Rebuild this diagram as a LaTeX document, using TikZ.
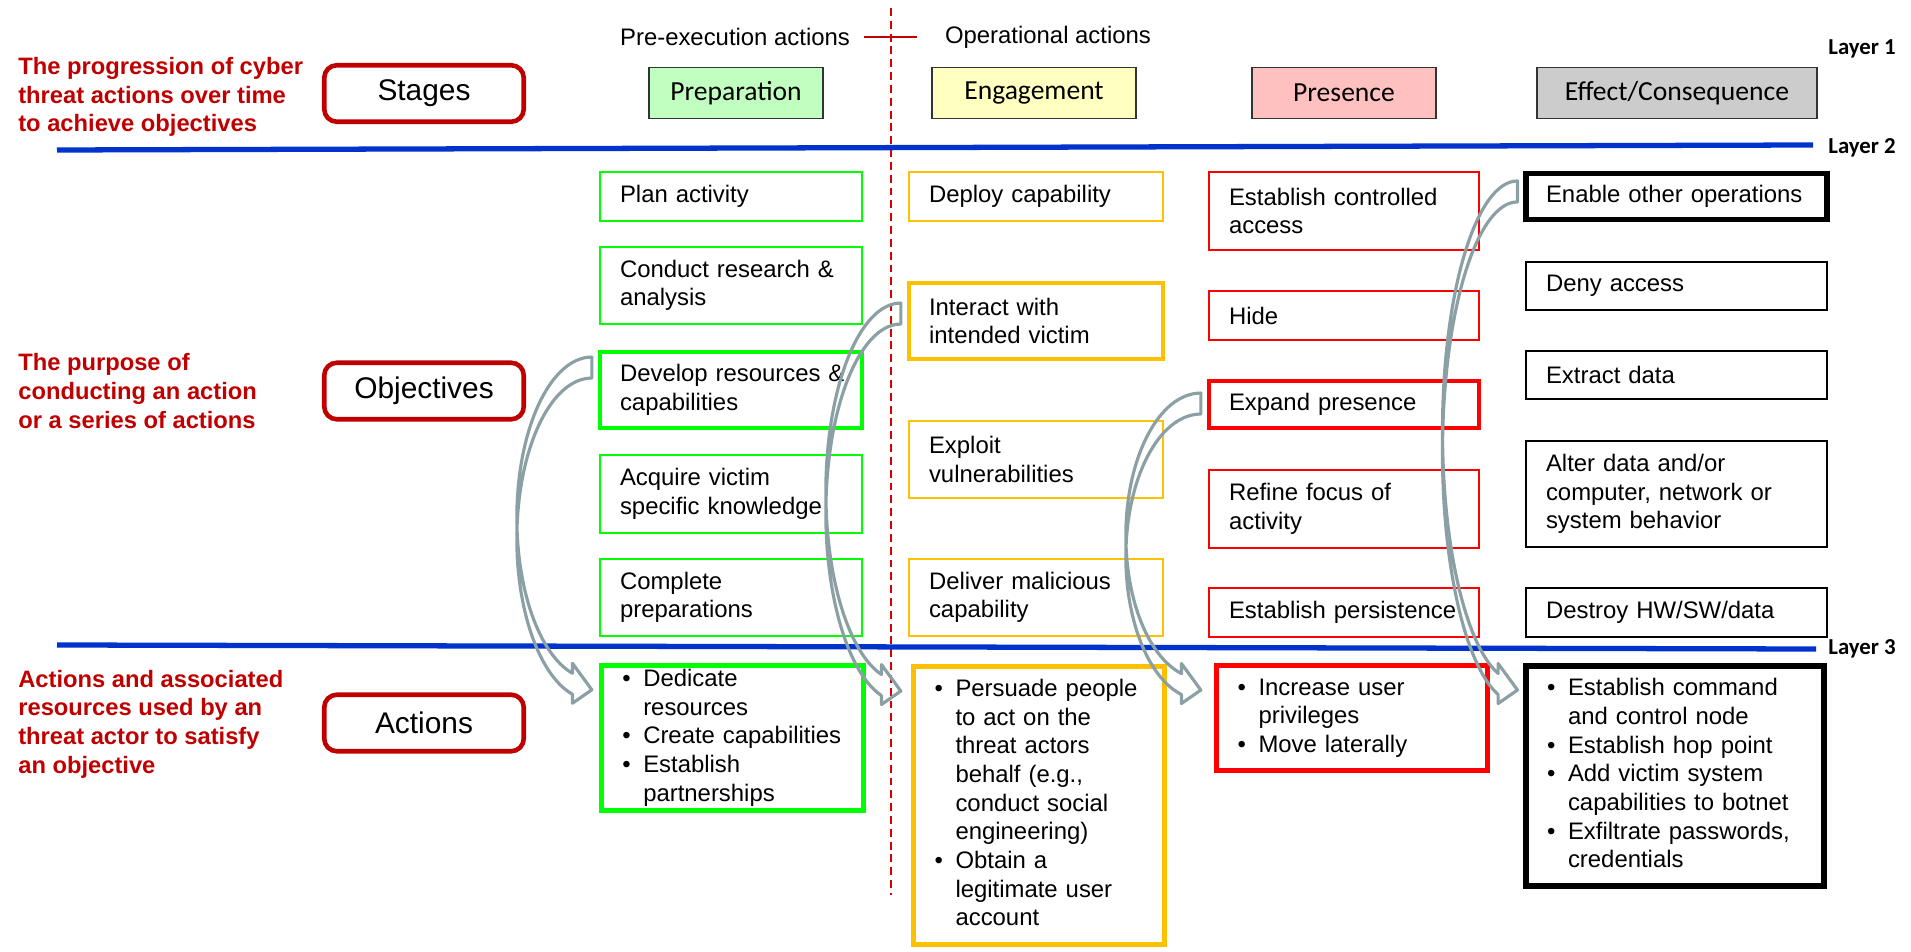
\documentclass[tikz,border=0pt]{standalone}
\usepackage{fontspec}
\setmainfont{Liberation Sans}
\newfontfamily\cali{Carlito}
\usepackage{tikz}
\usetikzlibrary{positioning,calc}
\usepackage{xcolor}
\hyphenpenalty=10000
\exhyphenpenalty=10000
\definecolor{stagered}{HTML}{C00000}
\definecolor{layerblue}{HTML}{0033CC}
\definecolor{prepgreen}{HTML}{00FF00}
\definecolor{engorange}{HTML}{FFC000}
\definecolor{presred}{HTML}{FF0000}
\definecolor{arrowgray}{HTML}{8AA0A4}
\definecolor{prepfill}{HTML}{C0FFC0}
\definecolor{engfill}{HTML}{FFFFC0}
\definecolor{presfill}{HTML}{FFC0C0}
\definecolor{efffill}{HTML}{CCCCCC}
\tikzset{
  box/.style={draw, line width=0.85pt, inner xsep=0.4cm, inner ysep=0pt,
    align=left, font=\fontsize{13.6}{16.3}\selectfont},
  hot/.style={line width=2.5pt},
}

% curved band arrow from an objective box down to its action box
\newcommand{\bendarrow}[3]{%
  \draw[bendarr] let \p1=($(#1.north west)+(-6,-#3)$),
                     \p2=($(#2.north west)+(0,-27)$),
                     \n1={(\y1-\y2-0.33cm)/1.966}
    in (\p1) arc[start angle=90, end angle=255, x radius=1.5cm, y radius={(\n1)*1pt}]
       coordinate (tipbase)
       -- ++(0,10) -- (\x1,\y2) -- ($(tipbase)+(0,-30)$) -- ($(tipbase)+(0,-21)$)
       arc[start angle=255, end angle=90, x radius=1.5cm, y radius={(\n1)*1pt}]
       -- cycle;
}

\begin{document}
\begin{tikzpicture}[
  x=0.02cm, y=0.02cm,
  gbox/.style={box, draw=prepgreen, text width=4.44cm, minimum height=#1},
  ybox/.style={box, draw=engorange, text width=4.28cm, minimum height=#1},
  rbox/.style={box, draw=presred, text width=4.6cm, minimum height=#1},
  kbox/.style={box, draw=black, text width=5.22cm, minimum height=#1},
  actbox/.style={box, inner xsep=0.42cm, line width=2.8pt, text width=#1},
  headbox/.style={draw=black!80, line width=1.1pt, minimum height=1.02cm,
    font=\cali\fontsize{15.7}{18}\selectfont},
  stagebox/.style={draw=stagered, line width=2.6pt, rounded corners=0.25cm,
    minimum width=3.99cm, minimum height=1.13cm, font=\fontsize{17}{20}\selectfont},
  sidelabel/.style={text=stagered, font=\bfseries\fontsize{13.5}{16.3}\selectfont,
    align=left, anchor=west, inner sep=0pt},
  toptext/.style={font=\fontsize{13.6}{16.3}\selectfont, inner sep=0pt},
  layerlabel/.style={font=\cali\bfseries\fontsize{13}{15}\selectfont, anchor=west, inner sep=0pt},
  layerline/.style={draw=layerblue, line width=3pt},
  bendarr/.style={draw=arrowgray, line width=1.8pt, line join=round}
]
\useasboundingbox (0,0) rectangle (1911,-952);

% left column
\node[sidelabel] (whystage) at (18,-97) {The progression of cyber\\threat actions over time\\to achieve objectives};
\node[sidelabel] (whyobj) at (18,-391) {The purpose of\\conducting an action\\or a series of actions};
\node[sidelabel] (whyact) at (18,-724) {Actions and associated\\resources used by an\\threat actor to satisfy\\an objective};

\node[stagebox] (stages) at (424,-93.5) {Stages};
\node[stagebox] (objectives) at (424,-391) {Objectives};
\node[stagebox] (actions) at (424,-723) {Actions};

% layer 1: stages
\node[toptext] (preexec) at (735,-37) {Pre-execution actions};
\node[toptext] (operat) at (1048,-37) {Operational actions};
\draw[stagered, line width=0.85pt] ($(preexec.east)+(14,0)$) -- ($(operat.west)+(-28,0)$);
\coordinate (splittop) at (891,-8);
\coordinate (splitbot) at (891,-895);
\draw[red!85!black, line width=0.85pt, dash pattern=on 4.5pt off 2.8pt] (splittop) -- (splitbot);

\node[headbox, fill=prepfill, minimum width=3.48cm] (prep) at (736,-93) {Preparation};
\node[headbox, fill=engfill, minimum width=4.08cm] (eng) at (1034,-93) {Engagement};
\node[headbox, fill=presfill, minimum width=3.68cm] (pres) at (1344,-93) {Presence};
\node[headbox, fill=efffill, minimum width=5.6cm] (eff) at (1677,-93) {Effect/Consequence};

\node[layerlabel] (layer1) at (1828,-49) {Layer 1};
\node[layerlabel] (layer2) at (1828,-148) {Layer 2};
\node[layerlabel] (layer3) at (1828,-649) {Layer 3};
\coordinate (l2a) at (57,-150);
\coordinate (l2b) at (1813,-145);
\coordinate (l3a) at (57,-645);
\coordinate (l3b) at (1816,-649);
\draw[layerline] (l2a) -- (l2b);
\draw[layerline] (l3a) -- (l3b);

% layer 2: objectives
\node[gbox=0.98cm] (plan) at (731,-196.5) {Plan activity};
\node[gbox=1.54cm] (research) at (731,-285.5) {Conduct research~\&\\analysis};
\node[gbox=1.51cm, hot] (develop) at (731,-390) {\mbox{Develop resources \&}\\capabilities};
\node[gbox=1.56cm] (acquire) at (731,-494) {Acquire victim\\specific knowledge};
\node[gbox=1.54cm] (complete) at (731,-597.5) {Complete\\preparations};

\node[ybox=0.98cm] (deploy) at (1036,-196.5) {Deploy capability};
\node[ybox=1.51cm, hot] (interact) at (1036,-321) {Interact with\\intended victim};
\node[ybox=1.54cm] (exploit) at (1036,-459.5) {Exploit\\vulnerabilities};
\node[ybox=1.54cm] (deliver) at (1036,-597.5) {Deliver malicious\\capability};

\node[rbox=1.56cm] (access) at (1344,-211) {Establish controlled\\access};
\node[rbox=0.98cm] (hide) at (1344,-315.5) {Hide};
\node[rbox=0.93cm, hot] (expand) at (1344,-404.5) {Expand presence};
\node[rbox=1.56cm] (refine) at (1344,-509) {Refine focus of\\activity};
\node[rbox=0.98cm] (persist) at (1344,-612.5) {\mbox{Establish persistence}};

\node[kbox=0.92cm, line width=2.9pt] (enable) at (1676.5,-196.5) {\mbox{Enable other operations}};
\node[kbox=0.96cm] (deny) at (1676.5,-286) {Deny access};
\node[kbox=0.96cm] (extract) at (1676.5,-375) {Extract data};
\node[kbox=2.12cm] (alter) at (1676.5,-494) {Alter data and/or\\computer, network or\\system behavior};
\node[kbox=0.98cm] (destroy) at (1676.5,-612.5) {Destroy HW/SW/data};

% layer 3: actions
\node[actbox=4.41cm, draw=prepgreen, minimum height=2.91cm] (act1) at (732.5,-738) {%
  \begin{tabular}{@{}p{0.42cm}@{}l@{}}
  \textbullet & Dedicate\\ & resources\\
  \textbullet & Create capabilities\\
  \textbullet & Establish\\ & partnerships
  \end{tabular}};
\node[actbox=4.18cm, draw=engorange, minimum height=5.56cm] (act2) at (1039,-805.5) {%
  \begin{tabular}{@{}p{0.42cm}@{}l@{}}
  \textbullet & Persuade people\\ & to act on the\\ & threat actors\\ & behalf (e.g.,\\ & conduct social\\ & engineering)\\
  \textbullet & Obtain a\\ & legitimate user\\ & account
  \end{tabular}};
\node[actbox=4.58cm, draw=presred, minimum height=2.1cm] (act3) at (1352,-718) {%
  \begin{tabular}{@{}p{0.42cm}@{}l@{}}
  \textbullet & Increase user\\ & privileges\\
  \textbullet & Move laterally
  \end{tabular}};
\node[actbox=5.12cm, draw=black, line width=3.4pt, minimum height=4.4cm] (act4) at (1675,-776) {%
  \begin{tabular}{@{}p{0.42cm}@{}l@{}}
  \textbullet & Establish command\\ & and control node\\
  \textbullet & Establish hop point\\
  \textbullet & Add victim system\\ & capabilities to botnet\\
  \textbullet & Exfiltrate passwords,\\ & credentials
  \end{tabular}};

% objective -> action arrows
\bendarrow{develop}{act1}{7}
\bendarrow{interact}{act2}{22}
\bendarrow{expand}{act3}{14}
\bendarrow{enable}{act4}{10}
\end{tikzpicture}
\end{document}
